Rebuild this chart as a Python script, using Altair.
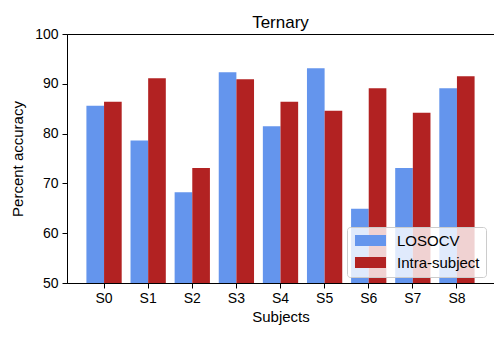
import altair as alt
import pandas as pd

subjects = ["S0", "S1", "S2", "S3", "S4", "S5", "S6", "S7", "S8"]
losocv = [85.6, 78.6, 68.2, 92.3, 81.5, 93.1, 64.9, 73.1, 89.1]
intra = [86.4, 91.1, 73.1, 90.9, 86.4, 84.6, 89.1, 84.2, 91.5]
methods = ["LOSOCV", "Intra-subject"]
colors = ["#6495ED", "#B22222"]

rows = []
for s, a, b in zip(subjects, losocv, intra):
    rows.append({"Subject": s, "Method": methods[0], "Accuracy": a})
    rows.append({"Subject": s, "Method": methods[1], "Accuracy": b})
df = pd.DataFrame(rows)

FONT = "Liberation Sans"

chart = alt.Chart(df).mark_bar(clip=True).encode(
    x=alt.X("Subject:N", sort=subjects,
            scale=alt.Scale(paddingInner=0.2, paddingOuter=0.44),
            axis=alt.Axis(title="Subjects", labelAngle=0, tickSize=5,
                          labelPadding=3, titlePadding=4)),
    xOffset=alt.XOffset("Method:N", sort=methods,
                        scale=alt.Scale(paddingInner=0, paddingOuter=0)),
    y=alt.Y("Accuracy:Q",
            scale=alt.Scale(domain=[50, 100], nice=False, zero=False),
            axis=alt.Axis(title="Percent accuracy", values=[50, 60, 70, 80, 90, 100],
                          tickSize=5, grid=False, labelPadding=4, titlePadding=9)),
    color=alt.Color("Method:N", sort=methods,
                    scale=alt.Scale(domain=methods, range=colors),
                    legend=alt.Legend(title=None, orient="none", legendX=280, legendY=193,
                                      symbolType="M-2.82,-1L2.82,-1L2.82,1L-2.82,1Z",
                                      symbolSize=121, symbolStrokeWidth=0,
                                      symbolOffset=10,
                                      labelFontSize=15, labelFont=FONT,
                                      labelOffset=19, rowPadding=6,
                                      padding=6, strokeColor="#cccccc",
                                      fillColor="rgba(255,255,255,0.8)",
                                      cornerRadius=3)),
).properties(
    width=427, height=249,
    title=alt.TitleParams("Ternary", fontSize=17, font=FONT, fontWeight="normal",
                          offset=-5, color="black"),
    autosize=alt.AutoSizeParams(type="none"),
    padding={"left": 59, "top": 26, "right": 0, "bottom": 48},
).configure_view(
    stroke="black", strokeWidth=1
).configure_axis(
    labelFont=FONT, titleFont=FONT, labelFontSize=14, titleFontSize=15,
    labelColor="black", titleColor="black", tickColor="black",
    domainColor="black", titleFontWeight="normal"
)

chart.save("out.html", embed_options={"renderer": "svg", "actions": False})
